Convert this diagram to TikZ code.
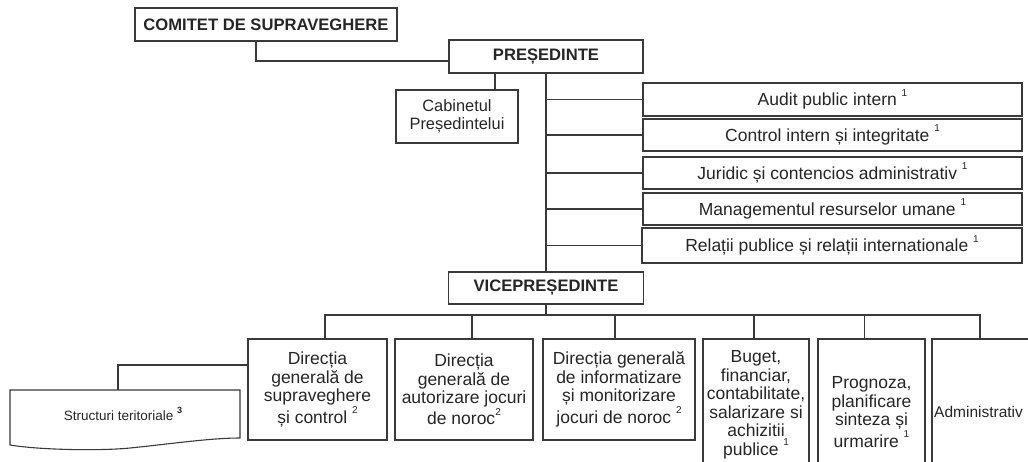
\documentclass[tikz,border=0pt]{standalone}
\usepackage{fontspec}
\setmainfont{Liberation Sans}
\usepackage{tikz}

\definecolor{boxline}{HTML}{3A3A3A}
\definecolor{textcol}{HTML}{262626}
\newcommand{\nota}[1]{\raisebox{0.55em}{\fontsize{10}{10}\selectfont #1}}

\begin{document}
\begin{tikzpicture}[x=1pt,y=-1pt,
        box/.style={draw=boxline,line width=1.1pt,fill=white,align=center,inner sep=1pt,
            text=textcol,font=\fontsize{17.5}{18.5}\selectfont},
        head/.style={box,font=\fontsize{16.6}{18}\selectfont\bfseries},
        link/.style={draw=boxline,line width=1.1pt}]
        \useasboundingbox (0,0) rectangle (1028,461);
        \fill[white] (0,0) rectangle (1028,461);
        \clip (0,0) rectangle (1028,461);

        \node[head,minimum width=262pt,minimum height=33pt] (comitet) at (266,24.5) {COMITET DE SUPRAVEGHERE};
        \node[head,minimum width=194pt,minimum height=33pt] (pres) at (546,56.5) {PREȘEDINTE};
        \node[box,font=\fontsize{16.4}{18.5}\selectfont,minimum width=122pt,minimum height=53pt] (cabinet) at (457,116.5) {Cabinetul\\Președintelui};

        \node[box,minimum width=379pt,minimum height=33pt] (audit) at (832.5,99.5) {Audit public intern \nota{1}};
        \node[box,minimum width=379pt,minimum height=32pt] (control) at (832.5,135) {Control intern și integritate \nota{1}};
        \node[box,minimum width=379pt,minimum height=32pt] (juridic) at (832.5,173) {Juridic și contencios administrativ \nota{1}};
        \node[box,minimum width=379pt,minimum height=32pt] (mgmt) at (832.5,209) {Managementul resurselor umane \nota{1}};
        \node[box,minimum width=380pt,minimum height=35pt] (relatii) at (832,245.5) {Relații publice și relații internationale \nota{1}};

        \node[head,minimum width=195pt,minimum height=32pt] (vice) at (546,288) {VICEPREȘEDINTE};

        \node[box,minimum width=139pt,minimum height=101pt] (dsc) at (317.5,389.5) {Direcția\\generală de\\supraveghere\\și control \nota{2}};
        \node[box,minimum width=138pt,minimum height=101pt] (daj) at (464,389.5) {Direcția\\generală de\\autorizare jocuri\\de noroc\nota{2}};
        \node[box,minimum width=152pt,minimum height=101pt] (dim) at (619,389.5) {Direcția generală\\de informatizare\\și monitorizare\\jocuri de noroc \nota{2}};
        \node[box,minimum width=106pt,minimum height=132pt] (buget) at (756,405) {Buget,\\financiar,\\contabilitate,\\salarizare si\\achizitii\\publice \nota{1}};
        \node[box,minimum width=107pt,minimum height=146pt] (prognoza) at (871.5,412) {Prognoza,\\planificare\\sinteza și\\urmarire \nota{1}};
        \node[box,minimum width=105pt,minimum height=146pt] (admin) at (984.5,412) {};
        \node[anchor=west,inner sep=0pt,text=textcol,font=\fontsize{15.5}{18.5}\selectfont] (admintext) at (934,412) {Administrativ};

        % presedinte
        \draw[link] ([xshift=-10pt]comitet.south) |- ([yshift=-4.5pt]pres.west);
        \draw[link] (pres.south) -- (vice.north);
        \draw[link] ([xshift=38pt]cabinet.north) -- ([xshift=38pt]cabinet.north |- pres.south);
        \foreach \n in {audit,control,juridic,mgmt,relatii}
            \draw[link] (pres.south |- \n.west) -- (\n.west);

        % vicepresedinte
        \coordinate (bus) at (546,315);
        \draw[link] (vice.south) -- (bus);
        \draw[link] ([xshift=7.5pt]dsc.north) |- (bus) -| ([xshift=-4.5pt]admin.north);
        \foreach \n/\dx in {daj/8,dim/-4,buget/-2,prognoza/-7}
            \draw[link] ([xshift=\dx pt]\n.north) -- ([xshift=\dx pt]\n.north |- bus);

        % structuri teritoriale
        \draw[link,fill=white] (10,390) -- (240,390) -- (240,438)
            .. controls (210,438) and (170,444) .. (130,448)
            .. controls (100,451) and (40,450) .. (10,445) -- cycle;
        \node[text=textcol,font=\fontsize{13.5}{15}\selectfont] (struct) at (123,414) {Structuri teritoriale \raisebox{0.5em}{\fontsize{9}{9}\selectfont\bfseries 3}};
        \coordinate (structtop) at (118,390);
        \draw[link] ([yshift=24.5pt]dsc.west) -| (structtop);
\end{tikzpicture}
\end{document}
